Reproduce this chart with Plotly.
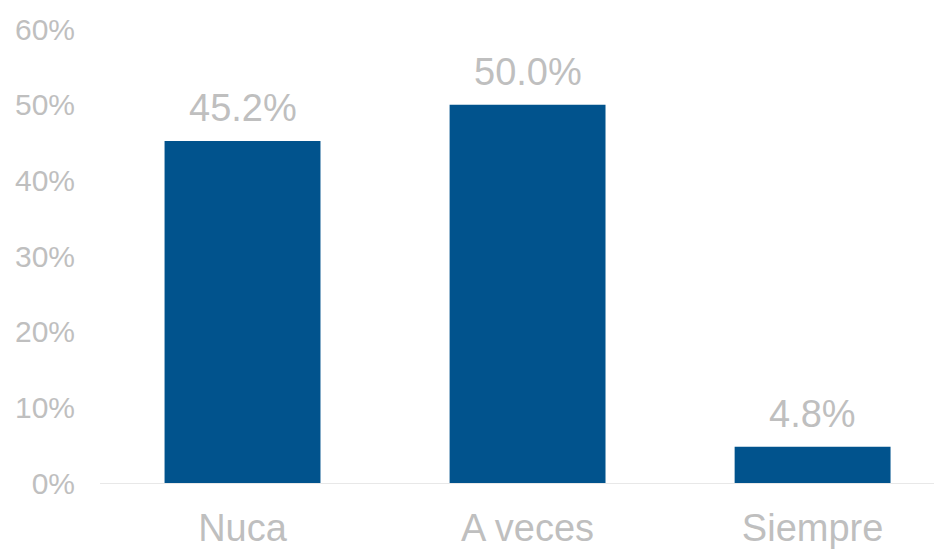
import plotly.graph_objects as go

categories = ["Nuca", "A veces", "Siempre"]
values = [45.2, 50.0, 4.8]
tick_vals = [0, 10, 20, 30, 40, 50, 60]
tick_text = ["0%", "10%", "20%", "30%", "40%", "50%", "60%"]

BAR = "#01538D"
GREY = "#BFBFBF"
FONT = "Liberation Sans, Arial, sans-serif"

fig = go.Figure()
fig.add_trace(go.Bar(x=categories, y=values, marker_color=BAR, marker_line_width=0))

for cat, val in zip(categories, values):
    fig.add_annotation(
        x=cat, y=val, text=f"{val:.1f}%", showarrow=False,
        yanchor="bottom", yshift=10,
        font={"family": FONT, "size": 38, "color": GREY},
    )

# the page body adds an 8px offset, so the figure is a bit smaller than the window
fig.update_layout(
    width=934,
    height=541,
    margin={"l": 92, "r": 0, "t": 21, "b": 66, "autoexpand": False},
    paper_bgcolor="white",
    plot_bgcolor="white",
    bargap=0.453,
    showlegend=False,
    font={"family": FONT, "color": GREY},
)
fig.update_xaxes(
    range=[-0.5, 2.454],
    automargin=False,
    showline=True, linecolor="#E8E8E8", linewidth=1,
    showgrid=False, ticks="",
    tickfont={"size": 38, "color": GREY},
    ticklabelstandoff=11,
)
fig.update_yaxes(
    range=[0, 60],
    automargin=False,
    tickvals=tick_vals, ticktext=tick_text,
    showgrid=False, zeroline=False, showline=False,
    tickfont={"size": 30, "color": GREY},
    ticklabelstandoff=24,
)

fig.write_html("out.html")
